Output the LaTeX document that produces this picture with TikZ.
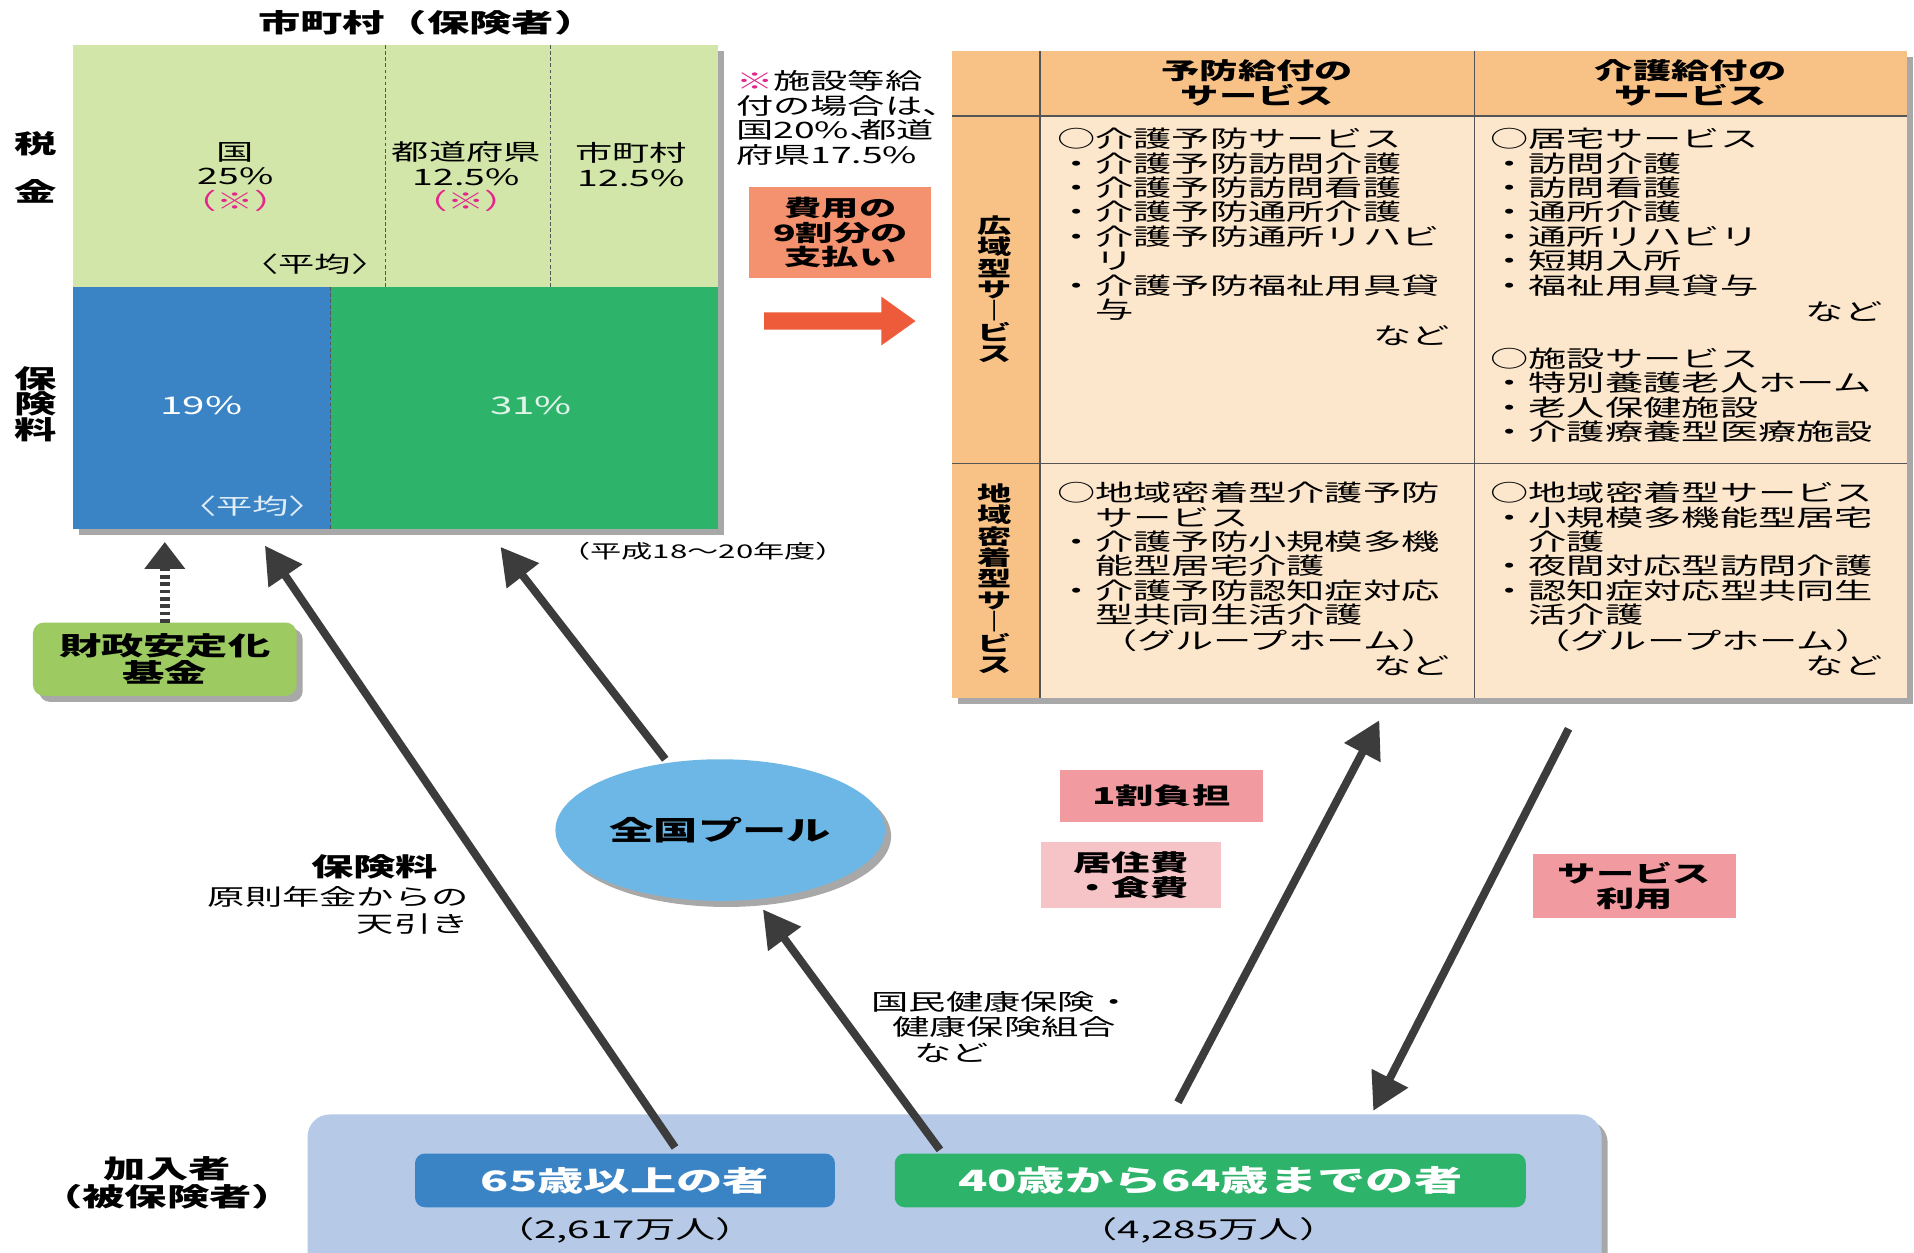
\documentclass[tikz,border=0pt]{standalone}
\usepackage{fontspec}
\setmainfont{Noto Sans CJK JP}[FakeStretch=1.65]
\usetikzlibrary{arrows.meta,calc,shadows,shapes.geometric}
\definecolor{topgreen}{HTML}{D2E6A9}
\definecolor{blueM}{HTML}{3A84C6}
\definecolor{greenM}{HTML}{2EB36B}
\definecolor{orangeH}{HTML}{F8C286}
\definecolor{peach}{HTML}{FDE7CC}
\definecolor{salmon}{HTML}{F4916F}
\definecolor{redarrow}{HTML}{EE5B3B}
\definecolor{poolblue}{HTML}{6CB7E5}
\definecolor{pinkA}{HTML}{F19AA0}
\definecolor{pinkB}{HTML}{F6C4C6}
\definecolor{lavender}{HTML}{B6CAE8}
\definecolor{fundgreen}{HTML}{9DCB62}
\definecolor{arrowgray}{HTML}{3C3C3C}
\definecolor{shadowgray}{HTML}{A8A8A8}
\definecolor{mag}{HTML}{E4268C}
\definecolor{linegray}{HTML}{555555}
\newcommand{\fs}[2]{\fontsize{#1}{#2}\selectfont}
\newcommand{\hcomma}{\makebox[0.45em][l]{、}}
\begin{document}
\begin{tikzpicture}[x=1pt,y=-1pt,
  every node/.style={inner sep=0pt, outer sep=0pt},
  rbox/.style={rectangle, anchor=north west, draw=none},
  shad/.style={drop shadow={shadow xshift=5pt,shadow yshift=-5pt,fill=shadowgray,opacity=1}},
  arr/.style={draw=arrowgray, line width=6.5pt, -{Triangle[length=30pt,width=32pt]}},
  dasharr/.style={draw=arrowgray, line width=8pt, dash pattern=on 3pt off 3pt, -{Triangle[length=22pt,width=32pt]}},
  dline/.style={draw=linegray, line width=0.8pt, dash pattern=on 3pt off 2pt},
  tline/.style={draw=linegray, line width=1pt},
  celltx/.style={font=\fs{19}{20}, align=left, anchor=north west},
  vlab/.style={font=\bfseries\fs{17}{17.5}, align=center},
  ]
\clip (0,0) rectangle (1568,1026);
\fill[white] (0,0) rectangle (1568,1026);

% ---------- funding block ----------
\node[font=\bfseries\fs{21}{22}] (title) at (350,19) {市町村（保険者）};
\node[rbox, fill=topgreen, minimum width=528, minimum height=198, shad] (tax) at (60,37) {};
\node[rbox, fill=blueM, minimum width=211, minimum height=198, shad] (blue) at (60,235) {};
\node[rbox, fill=greenM, minimum width=317, minimum height=198, shad] (green) at (271,235) {};
\draw[dline] ($(tax.north west)+(256,0)$) -- ($(tax.south west)+(256,0)$);
\draw[dline] ($(tax.north west)+(391,0)$) -- ($(tax.south west)+(391,0)$);
\draw[dline] (blue.north east) -- (blue.south east);

\node[font=\fs{18.5}{20}, align=center] (kuni) at (193,145) {国\\25\%\\{\color{mag}（※）}};
\node[font=\fs{18.5}{20}, align=center] (todo) at (382,145) {都道府県\\12.5\%\\{\color{mag}（※）}};
\node[font=\fs{18.5}{20}, align=center] (shi) at (517,135) {市町村\\12.5\%};
\node[font=\fs{18}{20}] (avg1) at (258,216) {〈平均〉};
\node[font=\fs{20}{22}, text=white] (p19) at (165,332) {19\%};
\node[font=\fs{20}{22}, text=white!85!greenM] (p31) at (435,332) {31\%};
\node[font=\fs{18}{20}, text=white!85!blueM] (avg2) at (207,415) {〈平均〉};

\node[font=\bfseries\fs{21}{22}] (zei) at (29,118) {税};
\node[font=\bfseries\fs{21}{22}] (kin) at (29,157) {金};
\node[font=\bfseries\fs{21}{21}, align=center] (hokenryo) at (29,331) {保\\険\\料};

\node[font=\fs{18.5}{20}, align=left, anchor=north west] (note) at (603,58)
  {{\color{mag}※}施設等給\\付の場合は\hcomma\\国20\%\hcomma 都道\\府県17.5\%};
\node[rbox, fill=salmon, minimum width=149, minimum height=75, font=\bfseries\fs{18.5}{20}, align=center] (pay) at (614,153) {費用の\\9割分の\\支払い};
\fill[redarrow] (626,256) -- (722,256) -- (722,243) -- (750,263) -- (722,283) -- (722,270) -- (626,270) -- cycle;
\node[font=\fs{15.5}{17}] (period) at (576,452) {（平成18～20年度）};

% ---------- service table ----------
\node[rbox, fill=peach, minimum width=782, minimum height=530, shad] (tbl) at (780,42) {};
\node[rbox, fill=orangeH, minimum width=72, minimum height=530] (lcol) at (780,42) {};
\node[rbox, fill=orangeH, minimum width=782, minimum height=53] (hrow) at (780,42) {};
\draw[tline] (lcol.north east) -- (lcol.south east);
\draw[tline] ($(tbl.north west)+(428,0)$) -- ($(tbl.south west)+(428,0)$);
\draw[tline] (hrow.south west) -- (hrow.south east);
\draw[tline] ($(tbl.north west)+(0,338)$) -- ($(tbl.north east)+(0,338)$);

\node[font=\bfseries\fs{19}{20}, align=center] (h1) at (1030,68) {予防給付の\\サービス};
\node[font=\bfseries\fs{19}{20}, align=center] (h2) at (1385,68) {介護給付の\\サービス};
\node[vlab] (v1) at (815,237) {広\\域\\型\\サ\\｜\\ビ\\ス};
\node[vlab] (v2) at (815,474) {地\\域\\密\\着\\型\\サ\\｜\\ビ\\ス};

\node[celltx] (c1) at (866,105) {○介護予防サービス\\・介護予防訪問介護\\・介護予防訪問看護\\・介護予防通所介護\\・介護予防通所リハビ\\　リ\\・介護予防福祉用具貸\\　与};
\node[font=\fs{19}{20}, anchor=east] (c1n) at (1188,275) {など};
\node[celltx] (c2) at (1221,105) {○居宅サービス\\・訪問介護\\・訪問看護\\・通所介護\\・通所リハビリ\\・短期入所\\・福祉用具貸与};
\node[font=\fs{19}{20}, anchor=east] (c2n) at (1542,255) {など};
\node[celltx] (c2b) at (1221,285) {○施設サービス\\・特別養護老人ホーム\\・老人保健施設\\・介護療養型医療施設};
\node[celltx] (c3) at (866,395) {○地域密着型介護予防\\　サービス\\・介護予防小規模多機\\　能型居宅介護\\・介護予防認知症対応\\　型共同生活介護};
\node[font=\fs{19}{20}] (c3g) at (1040,525) {（グループホーム）};
\node[font=\fs{19}{20}, anchor=east] (c3n) at (1188,545) {など};
\node[celltx] (c4) at (1221,395) {○地域密着型サービス\\・小規模多機能型居宅\\　介護\\・夜間対応型訪問介護\\・認知症対応型共同生\\　活介護};
\node[font=\fs{19}{20}] (c4g) at (1395,525) {（グループホーム）};
\node[font=\fs{19}{20}, anchor=east] (c4n) at (1542,545) {など};

% ---------- lower part ----------
\node[rbox, fill=fundgreen, rounded corners=9, minimum width=216, minimum height=60, shad, font=\bfseries\fs{21}{22}, align=center] (fund) at (27,510) {財政安定化\\基金};
\draw[dasharr] (fund.north) -- ++(0,-66);

\node[ellipse, fill=poolblue, minimum width=270, minimum height=116, shad, font=\bfseries\fs{22}{24}] (pool) at (590,680) {全国プール};

\node[font=\bfseries\fs{21}{22}] (hlabel) at (307,710) {保険料};
\node[font=\fs{18.5}{22}, align=right, anchor=north east] (tenbiki) at (384,726) {原則年金からの\\天引き};
\node[font=\fs{18.5}{21}, align=left, anchor=north west] (kokuho) at (714,812) {国民健康保険・\\\hspace*{17pt}健康保険組合\\\hspace*{35pt}など};

\node[rbox, fill=pinkA, minimum width=167, minimum height=42, font=\bfseries\fs{19}{20}] (ichiwari) at (868,631) {1割負担};
\node[rbox, fill=pinkB, minimum width=147, minimum height=54, font=\bfseries\fs{19}{21}, align=center] (kyoju) at (853,690) {居住費\\・食費};
\node[rbox, fill=pinkA, minimum width=166, minimum height=52, font=\bfseries\fs{19}{21}, align=center] (riyou) at (1256,700) {サービス\\利用};

\node[rbox, fill=lavender, rounded corners=18, minimum width=1060, minimum height=150, shad] (members) at (252,913) {};
\node[rbox, fill=blueM, rounded corners=8, minimum width=344, minimum height=44, font=\bfseries\fs{23}{24}, text=white] (p65) at (340,945) {65歳以上の者};
\node[rbox, fill=greenM, rounded corners=8, minimum width=517, minimum height=44, font=\bfseries\fs{24}{25}, text=white] (p40) at (733,945) {40歳から64歳までの者};
\node[font=\fs{20}{21}] (n65) at (512,1008) {（2,617万人）};
\node[font=\fs{20}{21}] (n40) at (990,1008) {（4,285万人）};
\node[font=\bfseries\fs{21}{23}, align=center] (kanyu) at (137,969) {加入者\\（被保険者）};

% ---------- arrows ----------
\draw[arr] ($(p65.north)+(41,-5)$) -- ($(blue.south)+(51.5,14)$);
\draw[arr] ($(pool.north)+(-45,0)$) -- ($(green.south)+(-19.5,15)$);
\draw[arr] ($(p40.north)+(-221.5,-3)$) -- ($(pool.south)+(35,7)$);
\draw[arr] ($(members.north)+(183,-10)$) -- ($(tbl.south)+(-41,18)$);
\draw[arr] ($(tbl.south)+(114,25)$) -- ($(members.north)+(343,-3)$);
\end{tikzpicture}
\end{document}
